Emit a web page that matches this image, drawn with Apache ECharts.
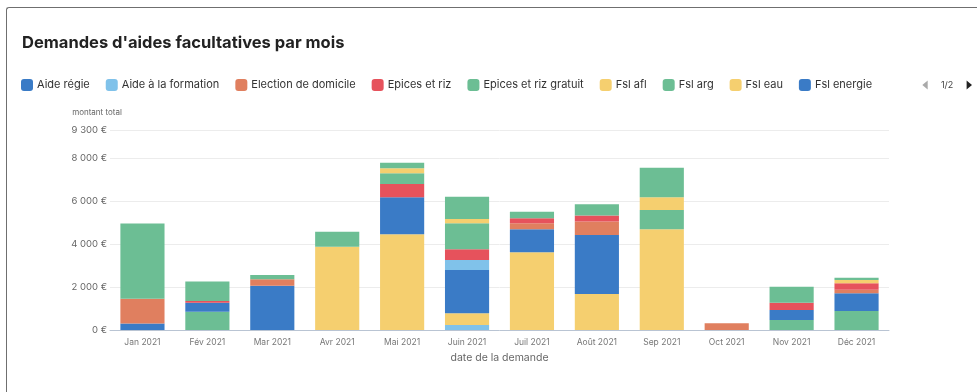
<!DOCTYPE html>
<html lang="fr">
<head>
<meta charset="utf-8">
<title>Demandes d'aides facultatives par mois</title>
<script src="https://cdn.jsdelivr.net/npm/echarts@6/dist/echarts.min.js"></script>
<style>
  html, body { margin: 0; padding: 0; background: #ffffff; overflow: hidden; }
  #card {
    position: absolute; left: 6px; top: 7px; width: 1000px; height: 420px;
    border-top: 1px solid #6f6f6f; border-left: 1px solid #6f6f6f;
    border-top-left-radius: 3px; box-sizing: border-box;
  }
  #chart { position: absolute; left: 0; top: 0; width: 977px; height: 392px; }
</style>
</head>
<body>
<div id="card"></div>
<div id="chart"></div>
<script>
// Months on the category axis
const months = ['Jan 2021', 'Fév 2021', 'Mar 2021', 'Avr 2021', 'Mai 2021', 'Juin 2021',
                'Juil 2021', 'Août 2021', 'Sep 2021', 'Oct 2021', 'Nov 2021', 'Déc 2021'];

// Monthly totals (€) per aid type
const aideFormation   = [0, 0, 0, 0, 0, 230, 0, 0, 0, 0, 0, 0];
const fslAfl          = [0, 0, 0, 3870, 4450, 550, 3610, 1670, 4680, 0, 0, 0];
const fslArg          = [0, 850, 0, 0, 0, 0, 0, 0, 0, 0, 470, 880];
const aideRegie       = [300, 420, 2060, 0, 1720, 2010, 1070, 2750, 0, 0, 460, 830];
const fslLoyer        = [0, 0, 0, 0, 0, 470, 0, 0, 0, 0, 0, 0];
const electionDom     = [1150, 0, 300, 0, 0, 0, 280, 620, 0, 310, 0, 160];
const epicesRiz       = [0, 80, 0, 0, 620, 490, 240, 280, 0, 0, 340, 300];
const epicesRizGratuit= [3500, 900, 200, 700, 500, 1210, 300, 530, 900, 0, 740, 0];
const fslEau          = [0, 0, 0, 0, 230, 200, 0, 0, 590, 0, 0, 160];
const secoursUrgence  = [0, 0, 0, 0, 260, 1040, 0, 0, 1380, 0, 0, 100];
const fslEnergie      = [0, 0, 0, 0, 0, 0, 0, 0, 0, 0, 0, 0];

// Value axis ticks
const yMax = 9300;
const yInterval = 2000;

// Colours
const BLUE = '#3a7bc6', LIGHTBLUE = '#80c2ea', ORANGE = '#e07f5f',
      RED = '#e6525c', GREEN = '#6cbe94', YELLOW = '#f5cf6f';

// Legend order (as listed) differs from the stacking order (below)
const legendOrder = ['Aide régie', 'Aide à la formation', 'Election de domicile', 'Epices et riz',
  'Epices et riz gratuit', 'Fsl afl', 'Fsl arg', 'Fsl eau', 'Fsl energie', 'Fsl loyer', "Secours d'urgence"];

// Stacking order, bottom to top
const stackDefs = [
  ['Aide à la formation', aideFormation, LIGHTBLUE],
  ['Fsl afl', fslAfl, YELLOW],
  ['Fsl arg', fslArg, GREEN],
  ['Aide régie', aideRegie, BLUE],
  ['Fsl loyer', fslLoyer, LIGHTBLUE],
  ['Election de domicile', electionDom, ORANGE],
  ['Epices et riz', epicesRiz, RED],
  ['Epices et riz gratuit', epicesRizGratuit, GREEN],
  ['Fsl eau', fslEau, YELLOW],
  ["Secours d'urgence", secoursUrgence, GREEN],
  ['Fsl energie', fslEnergie, BLUE]
];

const euro = v => String(v).replace(/\B(?=(\d{3})+(?!\d))/g, ' ') + ' €';

const series = stackDefs.map(([name, values, color]) => ({
  name,
  type: 'bar',
  stack: 'total',
  barCategoryGap: '32%',
  itemStyle: { color },
  emphasis: { disabled: true },
  data: values.map(v => (v === 0 ? '-' : v))
}));

const chart = echarts.init(document.getElementById('chart'), null, { renderer: 'canvas' });
chart.setOption({
  animation: false,
  textStyle: { fontFamily: 'Inter, "Noto Sans", sans-serif' },
  title: {
    text: "Demandes d'aides facultatives par mois",
    left: 17, top: 30,
    textStyle: { fontSize: 16.5, fontWeight: 700, color: '#222', fontFamily: 'Inter, "Noto Sans", sans-serif' }
  },
  legend: {
    type: 'scroll',
    data: legendOrder,
    left: 16, right: 0, top: 74,
    icon: 'roundRect',
    itemWidth: 12, itemHeight: 12, itemGap: 16,
    textStyle: { fontSize: 11, color: '#333', padding: [0, 0, 0, -1] },
    pageIconSize: 9,
    pageIconColor: '#222',
    pageIconInactiveColor: '#aaa',
    pageTextStyle: { fontSize: 9, color: '#444' },
    pageButtonItemGap: 8,
    pageButtonGap: 40
  },
  grid: { left: 110, right: 88, top: 130, bottom: 62, containLabel: false },
  xAxis: {
    type: 'category',
    data: months,
    name: 'date de la demande',
    nameLocation: 'middle',
    nameGap: 19,
    nameTextStyle: { fontSize: 10.5, color: '#666' },
    axisLine: { lineStyle: { color: '#b9c4d3' } },
    axisTick: { lineStyle: { color: '#b9c4d3' }, length: 4 },
    axisLabel: { fontSize: 8.5, color: '#777', margin: 8 }
  },
  yAxis: {
    type: 'value',
    min: 0, max: yMax, interval: yInterval,
    name: 'montant total',
    nameLocation: 'end',
    nameGap: 13,
    nameTextStyle: { fontSize: 8, color: '#666', align: 'center', padding: [0, 26, 0, 0] },
    axisLine: { show: false },
    axisTick: { show: false },
    axisLabel: { fontSize: 9.5, color: '#666', margin: 3, formatter: euro, showMaxLabel: true },
    splitLine: { lineStyle: { color: '#ececec' } }
  },
  series
});
</script>
</body>
</html>
